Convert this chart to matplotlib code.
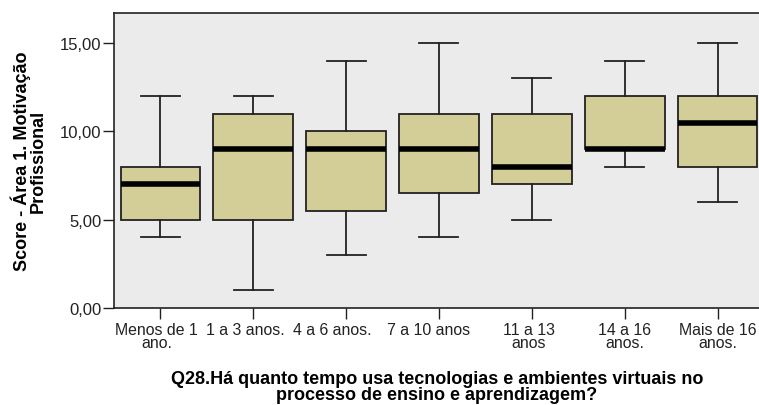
import matplotlib
matplotlib.use("Agg")
import matplotlib.pyplot as plt
import matplotlib.transforms as mtransforms

plt.rcParams['font.family'] = ['Liberation Sans', 'DejaVu Sans']

# 카테고리 / 박스플롯 통계
categories = ["Menos de 1\nano.", "1 a 3 anos.", "4 a 6 anos.", "7 a 10 anos",
              "11 a 13\nanos", "14 a 16\nanos.", "Mais de 16\nanos."]
whisker_low = [4, 1, 3, 4, 5, 8, 6]
q1 = [5, 5, 5.5, 6.5, 7, 9, 8]
median = [7, 9, 9, 9, 8, 9, 10.5]
q3 = [8, 11, 10, 11, 11, 12, 12]
whisker_high = [12, 12, 14, 15, 13, 14, 15]
y_ticks = [0, 5, 10, 15]

# SPSS 라벨이 살짝 왼쪽으로 밀려 있음 (px)
label_shift = [-4, -8, -14, -10, -3, 0, 0]

stats = []
for lo, a, m, b, hi in zip(whisker_low, q1, median, q3, whisker_high):
    stats.append({"whislo": lo, "q1": a, "med": m, "q3": b, "whishi": hi, "fliers": []})

fig = plt.figure(figsize=(7.59, 4.06), dpi=100)
# 오른쪽은 원본처럼 잘려 나감
ax = fig.add_axes([114 / 759, 1 - 309 / 406, 650 / 759, 295 / 406])
ax.set_facecolor("#EBEBEB")

ax.bxp(stats, positions=range(len(categories)), widths=0.86, patch_artist=True,
       boxprops=dict(facecolor="#D3CE98", edgecolor="#222222", linewidth=1.3),
       medianprops=dict(color="black", linewidth=4, solid_capstyle="butt"),
       whiskerprops=dict(color="#222222", linewidth=1.3),
       capprops=dict(color="#222222", linewidth=1.3),
       capwidths=0.42, showfliers=False)

ax.set_xlim(-0.5, len(categories) - 0.5)
ax.set_ylim(0, 16.7)
ax.set_yticks(y_ticks)
ax.set_yticklabels([f"{v:.2f}".replace(".", ",") for v in y_ticks], fontsize=12,
                   color="#222222")
ax.set_xticks(range(len(categories)))
ax.set_xticklabels(categories, fontsize=11.4, linespacing=0.85, color="#222222")
ax.tick_params(axis="both", direction="out", length=8, width=1, color="#222222")
ax.tick_params(axis="x", pad=2)
ax.tick_params(axis="y", pad=1)
for lbl, dx in zip(ax.get_xticklabels(), label_shift):
    lbl.set_transform(lbl.get_transform() +
                      mtransforms.ScaledTranslation(dx / 100, 0, fig.dpi_scale_trans))
for s in ax.spines.values():
    s.set_color("#222222")
    s.set_linewidth(1.2)

ax.set_ylabel("Score - Área 1. Motivação\nProfissional", fontsize=13, fontweight="bold",
              linespacing=0.95)
ax.yaxis.set_label_coords((47 - 114) / 650, 0.5)
ax.set_xlabel("Q28.Há quanto tempo usa tecnologias e ambientes virtuais no\n"
              "processo de ensino e aprendizagem?", fontsize=13, fontweight="bold",
              linespacing=0.92)
ax.xaxis.set_label_coords((437 - 114) / 650, (309 - 371) / 295)

fig.savefig("out.png", dpi=100)
